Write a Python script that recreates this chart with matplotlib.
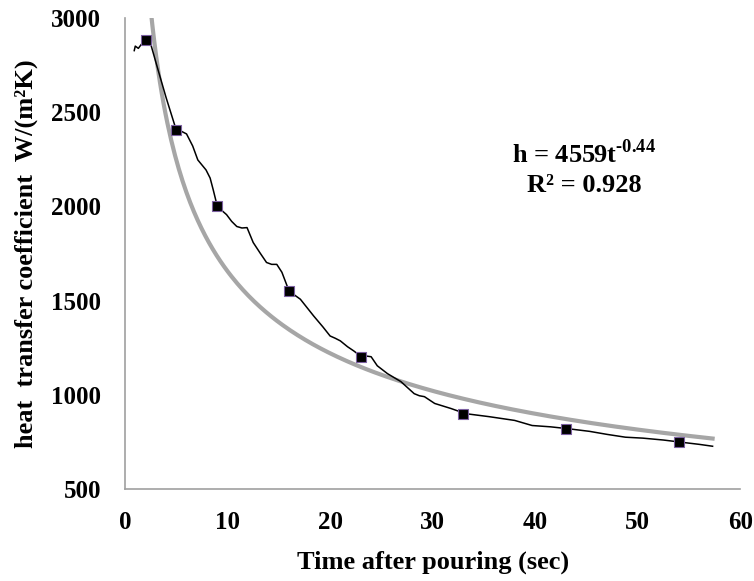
import numpy as np
import matplotlib

matplotlib.use("Agg")
import matplotlib.pyplot as plt

curve_t = [0.9, 1.0, 1.3, 1.6, 2.0, 2.5, 3.1, 4.0, 5.0, 5.5, 6.0, 6.6, 7.1, 7.9,
           8.3, 8.6, 9.0, 9.5, 9.9, 10.4, 10.9, 11.4, 11.9, 12.5, 13.2, 13.8,
           14.3, 14.8, 15.3, 16.0, 17.1, 18.4, 19.3, 20.0, 20.5, 21.0, 21.7,
           22.3, 23.1, 23.6, 24.0, 24.6, 25.6, 26.9, 28.2, 28.7, 29.2, 30.2,
           31.8, 33.2, 35.5, 38.0, 39.7, 41.5, 43.2, 45.3, 47.0, 48.8, 50.5,
           52.5, 54.3, 56.0, 57.3]
curve_h = [2826, 2850, 2838, 2860, 2875, 2862, 2747, 2578, 2404, 2398, 2384,
           2320, 2246, 2193, 2150, 2088, 2000, 1975, 1956, 1920, 1893, 1885,
           1887, 1808, 1750, 1702, 1692, 1692, 1650, 1550, 1507, 1418, 1360,
           1312, 1300, 1286, 1255, 1233, 1200, 1205, 1202, 1154, 1112, 1070,
           1006, 995, 990, 954, 927, 900, 884, 864, 837, 830, 820, 806, 790,
           775, 770, 760, 748, 737, 727]

# square markers
mark_t = [2, 5, 9, 16, 23, 33, 43, 54]
mark_h = [2880, 2405, 2000, 1550, 1200, 900, 820, 748]

# power-law trend line shown on the chart
fit_a = 4559
fit_b = -0.44
fit_range = (2.3, 57.3)

plt.rcParams["mathtext.fontset"] = "custom"
plt.rcParams["mathtext.rm"] = "Liberation Serif"
plt.rcParams["mathtext.bf"] = "Liberation Serif:bold"

bold_serif = {"family": "Liberation Serif", "weight": "bold"}

fig = plt.figure(figsize=(7.54, 5.81), dpi=100)
ax = fig.add_axes([0.1658, 0.1583, 0.816, 0.811])

t_fit = np.linspace(fit_range[0], fit_range[1], 300)
ax.plot(t_fit, fit_a * t_fit ** fit_b, color="#a6a6a6", lw=3, zorder=2)
ax.plot(curve_t, curve_h, color="black", lw=1.1, zorder=3,
        solid_joinstyle="round")
ax.plot(mark_t, mark_h, ls="none", marker="s", ms=7, mfc="black",
        mec="#7b5fa0", mew=0.8, zorder=4)

ax.set_xlim(0, 60)
ax.set_ylim(500, 3000)
ax.set_xticks(range(0, 61, 10))
ax.set_yticks(range(500, 3001, 500))
for s in ["top", "right"]:
    ax.spines[s].set_visible(False)
for s in ["left", "bottom"]:
    ax.spines[s].set_color("#a0a0a0")
    ax.spines[s].set_linewidth(1.2)
ax.tick_params(length=0)
ax.tick_params(axis="x", pad=16)
ax.tick_params(axis="y", pad=17)
for lab in ax.get_xticklabels() + ax.get_yticklabels():
    lab.set_fontfamily("Liberation Serif")
    lab.set_fontweight("bold")
    lab.set_fontsize(18)

ax.set_xlabel("Time after pouring (sec)", fontsize=19, **bold_serif)
ax.set_ylabel("heat  transfer coefficient  W/(m²K)", fontsize=19, **bold_serif)
ax.xaxis.set_label_coords(0.5, -0.13)
ax.yaxis.set_label_coords(-0.142, 0.5)

ax.text(44.8, 2280, "h = 4559t$^{\\mathbf{\u2010 0.44}}$".replace(" 0", "0"),
        ha="center", va="center", fontsize=19, **bold_serif)
ax.text(44.8, 2110, "R² = 0.928", ha="center", va="center", fontsize=19,
        **bold_serif)

fig.savefig("out.png", dpi=100)
